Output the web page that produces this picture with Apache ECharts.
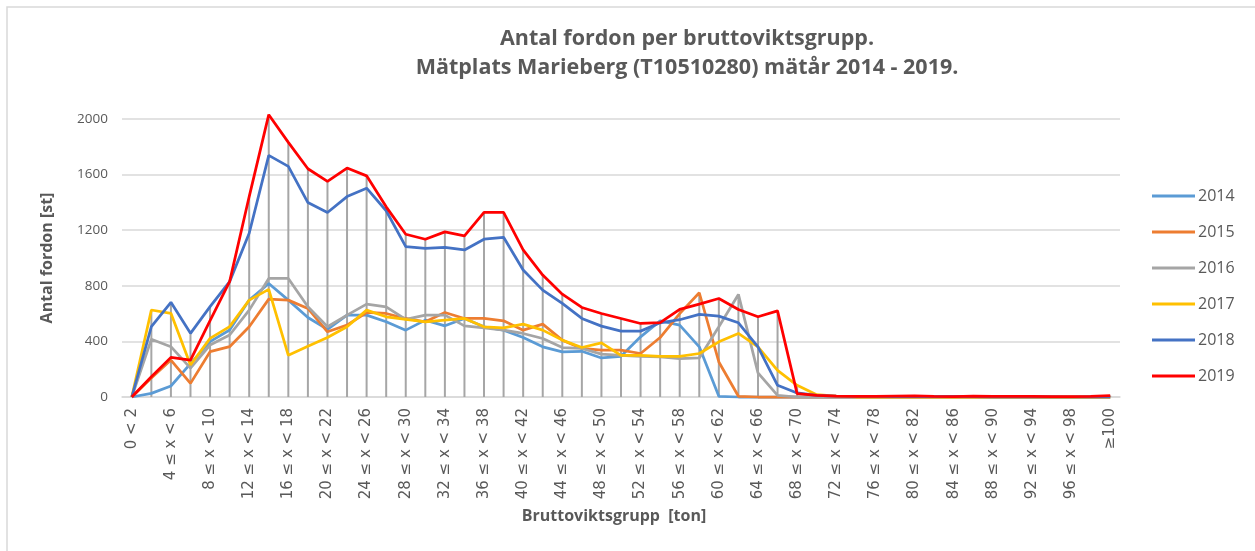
<!DOCTYPE html>
<html style="height: 100%">
   <head>
       <meta charset="utf-8">
       <script src="https://cdn.jsdelivr.net/npm/echarts@6/dist/echarts.min.js"></script>
   </head>
   <body style="height: 100%; margin: 0; background: #fff">
       <div id="container" style="height: 551px; width: 1255px"></div>
       <script type="text/javascript">

var categories = ['0 < 2', '2 ≤ x < 4', '4 ≤ x < 6', '6 ≤ x < 8', '8 ≤ x < 10', '10 ≤ x < 12', '12 ≤ x < 14',
  '14 ≤ x < 16', '16 ≤ x < 18', '18 ≤ x < 20', '20 ≤ x < 22', '22 ≤ x < 24', '24 ≤ x < 26', '26 ≤ x < 28',
  '28 ≤ x < 30', '30 ≤ x < 32', '32 ≤ x < 34', '34 ≤ x < 36', '36 ≤ x < 38', '38 ≤ x < 40', '40 ≤ x < 42',
  '42 ≤ x < 44', '44 ≤ x < 46', '46 ≤ x < 48', '48 ≤ x < 50', '50 ≤ x < 52', '52 ≤ x < 54', '54 ≤ x < 56',
  '56 ≤ x < 58', '58 ≤ x < 60', '60 ≤ x < 62', '62 ≤ x < 64', '64 ≤ x < 66', '66 ≤ x < 68', '68 ≤ x < 70',
  '70 ≤ x < 72', '72 ≤ x < 74', '74 ≤ x < 76', '76 ≤ x < 78', '78 ≤ x < 80', '80 ≤ x < 82', '82 ≤ x < 84',
  '84 ≤ x < 86', '86 ≤ x < 88', '88 ≤ x < 90', '90 ≤ x < 92', '92 ≤ x < 94', '94 ≤ x < 96', '96 ≤ x < 98',
  '98 ≤ x < 100', '≥100'];

var v2014 = [0, 26, 79, 240, 398, 482, 697, 817, 697, 572, 486, 589, 589, 541, 481, 553, 512, 565, 505, 481,
  428, 361, 325, 329, 281, 293, 433, 548, 517, 361, 5, 0, 0, 0, 0, 0, 0, 0, 0, 0,
  0, 0, 0, 0, 0, 0, 0, 0, 0, 0, 0];
var v2015 = [0, 137, 266, 98, 326, 362, 505, 704, 697, 637, 469, 517, 608, 601, 565, 541, 608, 565, 565, 548,
  481, 524, 409, 349, 337, 337, 313, 428, 600, 750, 252, 5, 0, 0, 0, 0, 0, 0, 0, 0,
  0, 0, 0, 0, 0, 0, 0, 0, 0, 0, 0];
var v2016 = [0, 415, 362, 208, 374, 446, 625, 853, 853, 649, 505, 589, 668, 649, 558, 589, 589, 512, 498, 481,
  457, 421, 356, 349, 308, 300, 293, 288, 276, 281, 505, 738, 173, 12, 0, 0, 0, 0, 0, 0,
  0, 0, 0, 0, 0, 0, 0, 0, 0, 0, 0];
var v2017 = [0, 626, 602, 230, 422, 506, 697, 774, 300, 365, 428, 505, 625, 577, 558, 541, 553, 565, 505, 498,
  524, 481, 409, 356, 389, 300, 300, 293, 293, 313, 397, 457, 361, 192, 84, 17, 7, 0, 0, 0,
  0, 0, 0, 0, 0, 0, 0, 0, 0, 0, 0];
var v2018 = [0, 506, 681, 458, 650, 830, 1178, 1738, 1659, 1399, 1327, 1442, 1502, 1340, 1082, 1070, 1077, 1058, 1135, 1149,
  914, 769, 673, 565, 510, 474, 474, 534, 556, 594, 582, 534, 361, 84, 29, 12, 7, 5, 4, 3,
  2, 3, 4, 2, 1, 2, 1, 1, 0, 1, 1];
var v2019 = [0, 146, 285, 266, 549, 830, 1442, 2031, 1832, 1642, 1551, 1647, 1591, 1368, 1171, 1135, 1188, 1159, 1329, 1329,
  1058, 877, 740, 644, 601, 565, 529, 535, 630, 668, 709, 630, 577, 620, 24, 12, 7, 5, 4, 6,
  8, 5, 3, 6, 5, 4, 4, 3, 2, 4, 10];

var years = ['2014', '2015', '2016', '2017', '2018', '2019'];
var colors = ['#5B9BD5', '#ED7D31', '#A5A5A5', '#FFC000', '#4472C4', '#FF0000'];
var allSeries = [v2014, v2015, v2016, v2017, v2018, v2019];

// drop lines: from the axis up to the highest point of each group
var dropTop = categories.map(function (c, i) {
  return Math.max.apply(null, allSeries.map(function (s) { return s[i]; }));
});

var font = '"Open Sans", sans-serif';
var grey = '#595959';

var dom = document.getElementById("container");
var myChart = echarts.init(dom);

var series = [{
  name: 'drop',
  type: 'bar',
  data: dropTop,
  barWidth: 2,
  itemStyle: { color: '#A6A6A6' },
  silent: true,
  z: 1
}];
years.forEach(function (y, k) {
  series.push({
    name: y,
    type: 'line',
    data: allSeries[k],
    symbol: 'none',
    clip: false,
    lineStyle: { width: 2.75, color: colors[k] },
    itemStyle: { color: colors[k] },
    z: 2 + k
  });
});

var option = {
  animation: false,
  textStyle: { fontFamily: font },
  title: {
    text: 'Antal fordon per bruttoviktsgrupp.\nMätplats Marieberg (T10510280) mätår 2014 - 2019.',
    left: 682,
    top: 19,
    textAlign: 'center',
    textStyle: { fontFamily: font, fontSize: 21.5, fontWeight: 'bold', color: grey, lineHeight: 29 }
  },
  graphic: [{
    type: 'rect',
    shape: { x: 7, y: 7, width: 1270, height: 570 },
    style: { fill: 'none', stroke: '#D9D9D9', lineWidth: 1.5 },
    silent: true
  }],
  legend: {
    data: years,
    orient: 'vertical',
    left: 1147,
    top: 183,
    icon: 'rect',
    itemWidth: 43,
    itemHeight: 3,
    itemGap: 20,
    textStyle: { fontFamily: font, fontSize: 16, color: grey, padding: [0, 0, 0, -2] }
  },
  grid: { left: 122, right: 135, top: 119, bottom: 154 },
  xAxis: {
    type: 'category',
    data: categories,
    boundaryGap: true,
    name: 'Bruttoviktsgrupp  [ton]',
    nameLocation: 'middle',
    nameGap: 111,
    nameTextStyle: { fontFamily: font, fontSize: 16, fontWeight: 'bold', color: grey, padding: [0, 14, 0, 0] },
    axisLine: { lineStyle: { color: '#D9D9D9', width: 1.5 } },
    axisTick: { show: false },
    axisLabel: { interval: 1, rotate: 90, fontSize: 15, color: grey, margin: 11, fontFamily: '"DejaVu Sans", sans-serif' }
  },
  yAxis: {
    type: 'value',
    min: 0,
    max: 2000,
    interval: 400,
    name: 'Antal fordon [st]',
    nameLocation: 'middle',
    nameGap: 67,
    nameTextStyle: { fontFamily: font, fontSize: 16, fontWeight: 'bold', color: grey },
    axisLine: { show: false },
    axisTick: { show: false },
    axisLabel: { fontSize: 13.5, color: grey, margin: 14, fontFamily: font, formatter: function (v) { return String(v); } },
    splitLine: { lineStyle: { color: '#D9D9D9', width: 1.5 } }
  },
  series: series
};

myChart.setOption(option);

       </script>
   </body>
</html>
